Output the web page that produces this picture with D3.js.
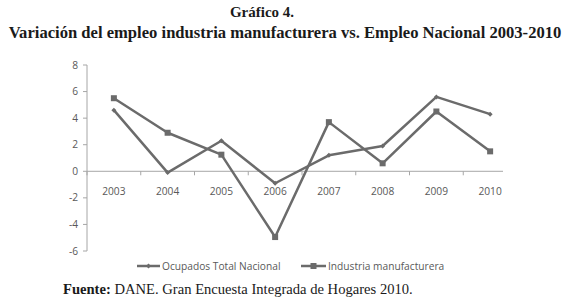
<!DOCTYPE html>
<html><head><meta charset="utf-8">
<script src="https://cdn.jsdelivr.net/npm/d3@7"></script>
<style>body{margin:0;background:#fff}svg{display:block}</style>
</head><body>
<script>
const years = ["2003","2004","2005","2006","2007","2008","2009","2010"];
const ocupados = [4.6, -0.1, 2.3, -0.9, 1.2, 1.9, 5.6, 4.3];
const industria = [5.5, 2.9, 1.25, -4.95, 3.7, 0.6, 4.5, 1.5];
const yTicks = [-6, -4, -2, 0, 2, 4, 6, 8];
const seriesNames = ["Ocupados Total Nacional", "Industria manufacturera"];
const titleLines = ["Gráfico 4.", "Variación del empleo industria manufacturera vs. Empleo Nacional 2003-2010"];

const W = 570, H = 302;
const svg = d3.select("body").append("svg").attr("width", W).attr("height", H);
const lineColor = "#6b6b6b", axisColor = "#a6a6a6", textColor = "#595959";
const fs = 10.2;

const x = d3.scaleBand().domain(years).range([87, 517]);
const y = d3.scaleLinear().domain([-6, 8]).range([251, 65]);

// titles
svg.append("text").attr("x", 262).attr("y", 17).attr("text-anchor", "middle")
  .attr("font-family", "Liberation Serif").attr("font-weight", "bold").attr("font-size", 15)
  .attr("fill", "#1a1a1a").text(titleLines[0]);
svg.append("text").attr("x", 285).attr("y", 38).attr("text-anchor", "middle")
  .attr("font-family", "Liberation Serif").attr("font-weight", "bold").attr("font-size", 16.6)
  .attr("fill", "#1a1a1a").text(titleLines[1]);

// y axis
svg.append("line").attr("x1", 87).attr("x2", 87).attr("y1", y(8)).attr("y2", y(-6))
  .attr("stroke", axisColor).attr("stroke-width", 1);
yTicks.forEach(t => {
  svg.append("line").attr("x1", 83).attr("x2", 87).attr("y1", y(t)).attr("y2", y(t))
    .attr("stroke", axisColor);
  svg.append("text").attr("x", 78).attr("y", y(t)).attr("dy", "0.35em").attr("text-anchor", "end")
    .attr("font-family", "Open Sans").attr("font-size", fs).attr("fill", textColor).text(t);
});

// x axis at 0
svg.append("line").attr("x1", 87).attr("x2", 503).attr("y1", y(0)).attr("y2", y(0))
  .attr("stroke", axisColor);
years.forEach(yr => {
  svg.append("line").attr("x1", x(yr)).attr("x2", x(yr)).attr("y1", y(0)).attr("y2", y(0) + 4)
    .attr("stroke", axisColor);
  svg.append("text").attr("x", x(yr) + x.bandwidth() / 2).attr("y", 191).attr("dy", "0.35em")
    .attr("text-anchor", "middle").attr("font-family", "Open Sans").attr("font-size", fs)
    .attr("fill", textColor).text(yr);
});

const cx = d => x(d) + x.bandwidth() / 2;
const line = d3.line().x((d, i) => cx(years[i])).y(d => y(d));

function diamond(g, px, py, s) {
  g.append("path").attr("d", `M${px},${py - s}L${px + s},${py}L${px},${py + s}L${px - s},${py}Z`)
    .attr("fill", lineColor);
}
function square(g, px, py, s) {
  g.append("rect").attr("x", px - s).attr("y", py - s).attr("width", 2 * s).attr("height", 2 * s)
    .attr("fill", lineColor);
}

svg.append("path").datum(ocupados).attr("d", line).attr("fill", "none")
  .attr("stroke", lineColor).attr("stroke-width", 2.5).attr("stroke-linejoin", "round");
svg.append("path").datum(industria).attr("d", line).attr("fill", "none")
  .attr("stroke", lineColor).attr("stroke-width", 2.5).attr("stroke-linejoin", "round");
const mg = svg.append("g");
ocupados.forEach((v, i) => diamond(mg, cx(years[i]), y(v), 2.5));
industria.forEach((v, i) => square(mg, cx(years[i]), y(v), 3));

// legend
const ly = 266;
svg.append("line").attr("x1", 137).attr("x2", 160).attr("y1", ly).attr("y2", ly)
  .attr("stroke", lineColor).attr("stroke-width", 2.5);
diamond(svg, 148.5, ly, 2.5);
svg.append("text").attr("x", 162).attr("y", ly).attr("dy", "0.35em").attr("font-family", "Open Sans")
  .attr("font-size", fs).attr("fill", textColor).text(seriesNames[0]);
svg.append("line").attr("x1", 301).attr("x2", 326).attr("y1", ly).attr("y2", ly)
  .attr("stroke", lineColor).attr("stroke-width", 2.5);
square(svg, 313.5, ly, 3);
svg.append("text").attr("x", 328).attr("y", ly).attr("dy", "0.35em").attr("font-family", "Open Sans")
  .attr("font-size", fs).attr("fill", textColor).text(seriesNames[1]);

// source
const src = svg.append("text").attr("x", 63).attr("y", 294).attr("font-family", "Liberation Serif")
  .attr("font-size", 14.6).attr("fill", "#1a1a1a");
src.append("tspan").attr("font-weight", "bold").text("Fuente:");
src.append("tspan").text(" DANE. Gran Encuesta Integrada de Hogares 2010.");
</script>
</body></html>
